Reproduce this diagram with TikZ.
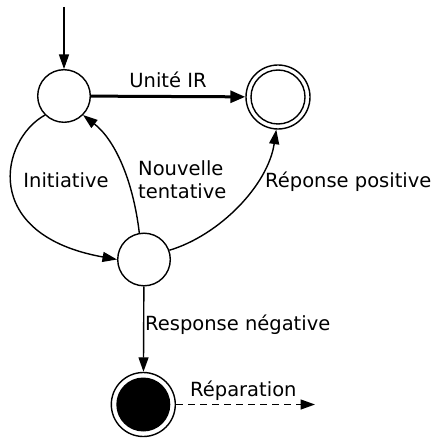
\documentclass[tikz,border=0pt]{standalone}
\usepackage{fontspec}
\setmainfont{DejaVu Sans}
\usetikzlibrary{arrows.meta}
\begin{document}
\begin{tikzpicture}[x=1pt,y=-1pt,
  lbl/.style={font=\fontsize{19.5}{22}\selectfont,inner sep=0pt},
  state/.style={circle,draw,line width=1.4pt,minimum size=52.6pt,inner sep=0pt},
  ring/.style={circle,draw,line width=1.4pt,minimum size=64pt,inner sep=0pt},
  edge/.style={line width=1.4pt,-{Triangle[length=14.5pt,width=10pt]}},
  thickedge/.style={line width=3pt,-{Triangle[length=15pt,width=12pt]}}
]
\useasboundingbox (0,0) rectangle (434,438);

\coordinate (start) at (64,7);
\node[state] (A) at (64,96) {};
\node[ring] (B) at (278,97) {};
\node[circle,draw,line width=1.4pt,minimum size=54pt,inner sep=0pt] (Bin) at (278,97) {};
\node[state] (C) at (144,259.5) {};
\node[ring] (D) at (143.3,404.5) {};
\node[circle,fill=black,minimum size=54pt,inner sep=0pt] (Din) at (143.3,404.5) {};
\coordinate (rep) at (315,404.5);

\draw[edge] (start) -- (A);
\draw[thickedge] (A) -- (B);
\draw[edge] (A.225) .. controls (0,140) and (-20,235) .. (C.west);
\draw[edge] (C.100) .. controls (133,180) and (115,140) .. (A.-45);
\draw[edge] (C.20) .. controls (220,235) and (268,185) .. (B.-93);
\draw[edge] (C) -- (D);
\draw[edge,dash pattern=on 7pt off 5pt] (D) -- (rep);

\node[lbl,anchor=base] (l1) at (168,88) {Unité IR};
\node[lbl,anchor=base] (l2) at (66,187) {Initiative};
\node[lbl,anchor=base west,align=left] (l3) at (138,198) {Nouvelle\\tentative};
\node[lbl,anchor=base west] (l4) at (265,187) {Réponse positive};
\node[lbl,anchor=base west] (l5) at (145,330.5) {Response négative};
\node[lbl,anchor=base west] (l6) at (190,396.5) {Réparation};
\end{tikzpicture}
\end{document}
